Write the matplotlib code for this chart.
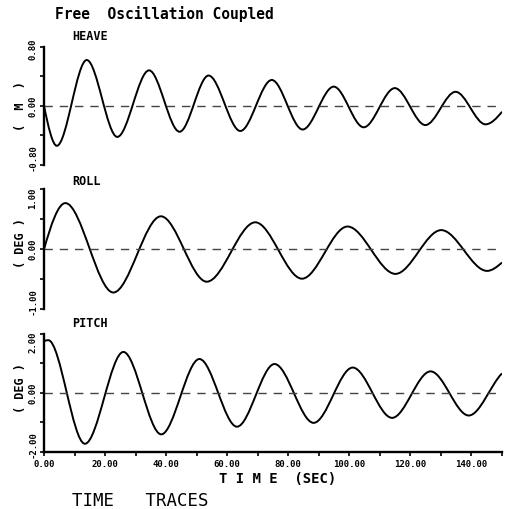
import matplotlib
matplotlib.use("Agg")
import matplotlib.pyplot as plt
from matplotlib.path import Path
from matplotlib.patches import PathPatch
from matplotlib.transforms import ScaledTranslation

# ---------------- data (extrema + ends) ----------------
heave_t = [0.0, 4.2, 14.0, 24.0, 34.4, 44.4, 53.9, 64.3, 74.6, 84.7, 94.9, 104.7, 114.9, 124.9, 134.8, 144.6, 150.0]
heave_v = [0.0, -0.54, 0.62, -0.42, 0.48, -0.35, 0.41, -0.34, 0.35, -0.32, 0.26, -0.29, 0.24, -0.26, 0.19, -0.25, -0.08]
heave_end_slopes = [-0.20, 0.05]

roll_t = [0.0, 7.0, 22.7, 38.3, 53.3, 69.2, 84.5, 99.4, 115.1, 130.1, 145.1, 150.0]
roll_v = [0.0, 0.77, -0.72, 0.55, -0.54, 0.45, -0.49, 0.38, -0.41, 0.32, -0.36, -0.22]
roll_end_slopes = [0.18, 0.045]

pitch_t = [0.0, 1.4, 13.4, 26.0, 38.4, 50.9, 63.2, 75.5, 88.3, 101.1, 114.0, 126.6, 139.1, 150.0]
pitch_v = [1.76, 1.79, -1.73, 1.39, -1.41, 1.15, -1.15, 0.98, -1.02, 0.86, -0.85, 0.73, -0.77, 0.66]
pitch_end_slopes = [0.03, 0.10]

panel_names = ["HEAVE", "ROLL", "PITCH"]
unit_labels = ["(  M  )", "( DEG )", "( DEG )"]
y_limits = [0.80, 1.00, 2.00]
x_major = [0, 20, 40, 60, 80, 100, 120, 140]
x_minor = [10, 30, 50, 70, 90, 110, 130, 150]
x_labels = ["0.00", "20.00", "40.00", "60.00", "80.00", "100.00", "120.00", "140.00"]

title_text = "Free  Oscillation Coupled"
xlabel_text = "T I M E  (SEC)"
footer_text = "TIME   TRACES"

# ---------------- style ----------------
plt.rcParams["font.family"] = ["DejaVu Sans Mono", "DejaVu Sans"]
plt.rcParams["font.weight"] = "bold"

fig = plt.figure(figsize=(5.05, 5.09), dpi=100)

left, width = 44 / 505, 458 / 505
rects = [
    [left, 1 - 165.0 / 509, width, 118.3 / 509],
    [left, 1 - 309.3 / 509, width, 120.0 / 509],
    [left, 1 - 451.7 / 509, width, 117.7 / 509],
]
name_y = [1.082, 1.069, 1.093]
ylabel_y = [0.50, 0.55, 0.54]
top_label_shift = [3, 9, 8]      # px, end labels pulled inward
bottom_label_shift = [7, 8, 7]


def smooth_path(t, v, end_slopes):
    m = [0.0] * len(t)
    m[0], m[-1] = end_slopes
    verts = [(t[0], v[0])]
    codes = [Path.MOVETO]
    for i in range(len(t) - 1):
        h = t[i + 1] - t[i]
        verts += [(t[i] + h / 3, v[i] + m[i] * h / 3),
                  (t[i + 1] - h / 3, v[i + 1] - m[i + 1] * h / 3),
                  (t[i + 1], v[i + 1])]
        codes += [Path.CURVE4] * 3
    return Path(verts, codes)


series = [(heave_t, heave_v, heave_end_slopes),
          (roll_t, roll_v, roll_end_slopes),
          (pitch_t, pitch_v, pitch_end_slopes)]

for k, (t, v, s) in enumerate(series):
    ax = fig.add_axes(rects[k])
    lim = y_limits[k]
    ax.set_xlim(0, 150)
    ax.set_ylim(-lim, lim)
    ax.patch.set_alpha(0)

    ax.axhline(0, color="#444444", lw=1.0, dashes=(6, 5))
    ax.add_patch(PathPatch(smooth_path(t, v, s), fill=False, edgecolor="black", lw=1.4))

    for side in ["top", "right"]:
        ax.spines[side].set_visible(False)
    ax.spines["left"].set_linewidth(1.7)

    ax.set_yticks([-lim, -lim / 2, 0, lim / 2, lim],
                  ["%.2f" % -lim, "", "0.00", "", "%.2f" % lim])
    ax.tick_params(axis="y", direction="out", length=2.8, width=1.2,
                   labelrotation=90, pad=2, labelsize=6.5)

    ax.set_ylabel(unit_labels[k], fontsize=8.5, fontweight="bold", va="center")
    ax.yaxis.set_label_coords(-0.052, ylabel_y[k])

    ax.text(0.061, name_y[k], panel_names[k], transform=ax.transAxes,
            ha="left", va="center", fontsize=8.5, fontweight="bold")

    if k < 2:
        ax.spines["bottom"].set_visible(False)
        ax.set_xticks([])
    else:
        ax.spines["bottom"].set_linewidth(1.7)
        ax.set_xticks(x_major, x_labels)
        ax.set_xticks(x_minor, minor=True)
        ax.tick_params(axis="x", which="both", direction="out", length=3,
                       width=1.2, pad=3, labelsize=6.5)
        for lab in ax.get_xticklabels():
            lab.set_fontweight("bold")
        ax.set_xlabel(xlabel_text, fontsize=10, fontweight="bold")
        ax.xaxis.set_label_coords(0.511, -0.232)
        ax.xaxis.label.set_va("center")

    yt = ax.yaxis.get_major_ticks()
    for lab in ax.get_yticklabels():
        lab.set_va("center")
        lab.set_fontweight("bold")
    yt[-1].label1.set_transform(yt[-1].label1.get_transform() +
                                ScaledTranslation(0, -top_label_shift[k] / 100, fig.dpi_scale_trans))
    yt[0].label1.set_transform(yt[0].label1.get_transform() +
                               ScaledTranslation(0, bottom_label_shift[k] / 100, fig.dpi_scale_trans))

fig.text(55 / 505, 1 - 14 / 509, title_text, ha="left", va="center",
         fontsize=10.5, fontweight="bold")
fig.text(72 / 505, 1 - 501 / 509, footer_text, ha="left", va="center",
         fontsize=12.5, fontweight="normal", family="DejaVu Sans Mono")

fig.savefig("out.png", dpi=100)
